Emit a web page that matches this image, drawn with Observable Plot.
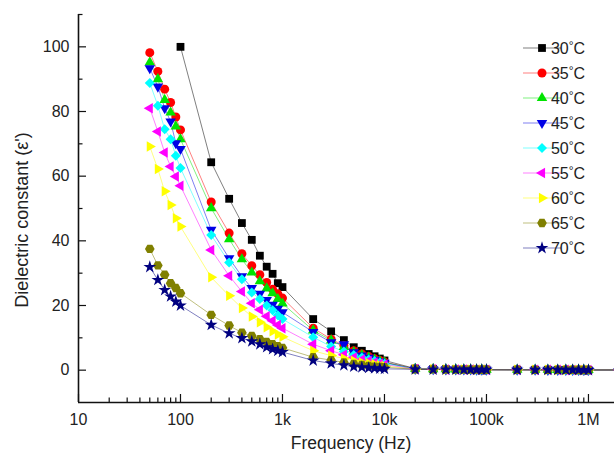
<!DOCTYPE html>
<html><head><meta charset="utf-8">
<script src="https://cdn.jsdelivr.net/npm/d3@7"></script>
<script src="https://cdn.jsdelivr.net/npm/@observablehq/plot@0.6"></script>
<style>
html,body{margin:0;padding:0;background:#fff;}
#chart{width:614px;height:454px;overflow:hidden;}
</style></head><body><div id="chart"></div>
<script>
// ---- data ----
const freqs = [50,60,70,80,90,100,200,300,400,500,600,700,800,900,1000,
  2000,3000,4000,5000,6000,7000,8000,9000,10000,
  20000,30000,40000,50000,60000,70000,80000,90000,100000,
  200000,300000,400000,500000,600000,700000,800000,900000,1000000,2000000];
const temps = ["30","35","40","45","50","55","60","65","70"];
const e30 = [null,null,null,null,null,100.0, 64.3,53.0,45.5,40.3,35.4,32.0,29.8,26.9, 25.7, 15.8,12.0,9.3,7.1,6.0,5.0,4.3,3.6,3.0, 0.50,0.36,0.30,0.26,0.23,0.21,0.19,0.18,0.17, 0.14,0.13,0.12,0.11,0.10,0.10,0.09,0.09,0.08, 0.07];
const e35 = [98.2,92.4,86.9,82.8,78.3,74.3, 52.0,42.4,36.0,32.3,29.5,27.1,25.0,23.6, 22.3, 13.0,9.6,7.6,6.0,5.0,4.2,3.5,3.0,2.5, 0.45,0.33,0.28,0.24,0.22,0.20,0.18,0.17,0.16, 0.13,0.12,0.11,0.10,0.10,0.09,0.09,0.08,0.08, 0.07];
const e40 = [95.2,90.0,83.6,79.7,75.4,71.4, 50.1,40.5,34.3,30.2,27.5,25.3,23.8,22.0, 20.6, 12.3,9.2,7.2,5.6,4.7,3.9,3.3,2.8,2.4, 0.42,0.31,0.27,0.23,0.21,0.19,0.18,0.17,0.16, 0.13,0.12,0.11,0.10,0.09,0.09,0.08,0.08,0.07, 0.07];
const e45 = [93.4,87.7,81.0,76.9,70.2,68.4, 43.4,34.6,29.0,25.4,23.6,21.7,20.2,19.0, 17.9, 11.8,8.6,8.0,5.5,4.5,3.8,3.2,2.7,2.3, 0.40,0.30,0.26,0.23,0.21,0.19,0.17,0.16,0.15, 0.13,0.12,0.11,0.10,0.09,0.09,0.08,0.08,0.07, 0.06];
const e50 = [88.8,81.8,74.5,71.4,66.3,62.5, 41.8,33.3,28.1,24.0,22.0,20.0,18.5,17.0, 15.8, 10.2,7.3,5.8,4.7,3.9,3.3,2.8,2.4,2.0, 0.38,0.29,0.25,0.22,0.20,0.18,0.17,0.16,0.15, 0.12,0.11,0.10,0.10,0.09,0.08,0.08,0.07,0.07, 0.06];
const e55 = [81.0,73.8,67.3,63.0,59.9,57.0, 37.2,29.2,24.3,20.7,18.7,16.7,15.3,14.0, 13.0, 8.0,6.0,4.8,3.9,3.3,2.8,2.4,2.0,1.7, 0.35,0.27,0.24,0.21,0.19,0.17,0.16,0.15,0.14, 0.12,0.11,0.10,0.09,0.09,0.08,0.08,0.07,0.07, 0.06];
const e60 = [69.2,62.2,55.3,51.1,47.0,44.4, 28.7,23.0,19.2,16.6,14.8,13.3,12.0,11.0, 10.3, 6.0,4.5,3.6,2.9,2.4,2.1,1.8,1.5,1.3, 0.32,0.25,0.22,0.20,0.18,0.17,0.15,0.14,0.14, 0.11,0.10,0.10,0.09,0.08,0.08,0.07,0.07,0.07, 0.06];
const e65 = [37.5,32.4,29.5,26.9,25.4,23.8, 17.1,13.8,11.6,10.6,9.6,8.7,8.0,7.4, 6.9, 4.0,3.1,2.4,1.9,1.6,1.3,1.1,1.0,0.9, 0.28,0.23,0.20,0.18,0.17,0.16,0.15,0.14,0.13, 0.11,0.10,0.09,0.09,0.08,0.08,0.07,0.07,0.06, 0.06];
const e70 = [31.9,27.9,24.8,22.8,21.2,20.0, 14.0,11.4,9.9,8.9,8.0,7.1,6.5,6.0, 5.6, 3.0,2.1,1.5,1.1,0.9,0.7,0.6,0.5,0.4, 0.25,0.21,0.19,0.17,0.16,0.15,0.14,0.13,0.12, 0.10,0.09,0.09,0.08,0.08,0.07,0.07,0.06,0.06, 0.05];
const seriesValues = [e30,e35,e40,e45,e50,e55,e60,e65,e70];

const xTickValues = [10,100,1000,10000,100000,1000000];
const xTickLabels = ["10","100","1k","10k","100k","1M"];
const xMinorTicks = [20,30,40,50,60,70,80,90,200,300,400,500,600,700,800,900,
  2000,3000,4000,5000,6000,7000,8000,9000,20000,30000,40000,50000,60000,70000,80000,90000,
  200000,300000,400000,500000,600000,700000,800000,900000];
const yTickValues = [0,20,40,60,80,100];
const yMinorTicks = [10,30,50,70,90,110];

// ---- styles ----
const colors = ["#000000","#ff0000","#00e400","#0000e6","#00ffff","#ff00ff","#ffff00","#808000","#000080"];
const sq3 = Math.sqrt(3);
function tri(dir){ // dir: 0 up,1 down,2 left,3 right
  return {draw(ctx,size){
    const y = -Math.sqrt(size/(sq3*3));
    let pts = [[0,y*2],[-sq3*y,-y],[sq3*y,-y]];
    if(dir===1) pts = pts.map(([a,b])=>[a,-b]);
    if(dir===2) pts = pts.map(([a,b])=>[b,a]);
    if(dir===3) pts = pts.map(([a,b])=>[-b,a]);
    ctx.moveTo(pts[0][0],pts[0][1]); ctx.lineTo(pts[1][0],pts[1][1]); ctx.lineTo(pts[2][0],pts[2][1]); ctx.closePath();
  }};
}
const diamond = {draw(ctx,size){const d=Math.sqrt(size/2); ctx.moveTo(0,-d); ctx.lineTo(d,0); ctx.lineTo(0,d); ctx.lineTo(-d,0); ctx.closePath();}};
const hexagon = {draw(ctx,size){const r=Math.sqrt(size/(1.5*sq3)); for(let k=0;k<6;k++){const a=k*Math.PI/3; const px=r*Math.cos(a), py=r*Math.sin(a); k?ctx.lineTo(px,py):ctx.moveTo(px,py);} ctx.closePath();}};
const symbols = [d3.symbolSquare, d3.symbolCircle, tri(0), tri(1), diamond, tri(2), tri(3), hexagon, d3.symbolStar];
const radii = [4.4, 4.5, 3.9, 3.9, 4.0, 3.9, 3.9, 4.4, 4.0];

// ---- table ----
const series = temps.map((t,k)=>({
  t, color: colors[k], symbol: symbols[k], r: radii[k],
  rows: freqs.map((f,i)=>({f, v: seriesValues[k][i]})).filter(d=>d.v!=null)
}));

const W = 614, H = 454, ML = 78, MR = 0, MT = 14, MB = 52;
const frameW = W-ML-MR, frameH = H-MT-MB;
const font = "'Liberation Sans', Arial, Helvetica, sans-serif";

const marks = [];
series.forEach(s=>{
  marks.push(Plot.line(s.rows,{x:"f",y:"v",stroke:s.color,strokeOpacity:0.5,strokeWidth:1,clip:true}));
});
series.forEach(s=>{
  marks.push(Plot.dot(s.rows,{x:"f",y:"v",symbol:s.symbol,r:s.r,fill:s.color,stroke:"none",clip:true}));
});
// axes
marks.push(Plot.tickX(xTickValues,{x:d=>d,insetTop:frameH-8,stroke:"#111",strokeWidth:1.2}));
marks.push(Plot.tickX(xMinorTicks,{x:d=>d,insetTop:frameH-4.5,stroke:"#111",strokeWidth:1.2}));
marks.push(Plot.tickY(yTickValues,{y:d=>d,insetRight:frameW-8,stroke:"#111",strokeWidth:1.2}));
marks.push(Plot.tickY(yMinorTicks,{y:d=>d,insetRight:frameW-4.5,stroke:"#111",strokeWidth:1.2}));
marks.push(Plot.ruleX([10],{stroke:"#111",strokeWidth:1.6}));
marks.push(Plot.ruleY([-10],{stroke:"#111",strokeWidth:1.6}));
marks.push(Plot.axisX({ticks:xTickValues,tickFormat:d=>xTickLabels[xTickValues.indexOf(d)],tickSize:0,tickPadding:11,fontSize:16,label:null}));
marks.push(Plot.axisY({ticks:yTickValues,tickSize:0,tickPadding:9,fontSize:16,label:null}));

const svg = Plot.plot({
  width:W,height:H,marginLeft:ML,marginRight:MR,marginTop:MT,marginBottom:MB,
  style:{fontFamily:font,fontSize:"16px",color:"#222",background:"#fff"},
  x:{type:"log",domain:[10,1.8e6]},
  y:{domain:[-10,110]},
  marks
});
document.getElementById("chart").appendChild(svg);

// axis titles and legend
const g = d3.select(svg).append("g").attr("font-family",font).attr("fill","#222");
g.append("text").attr("x",ML+frameW/2+5).attr("y",449).attr("text-anchor","middle").attr("font-size",17.5).text("Frequency (Hz)");
g.append("text").attr("transform","translate(28,220) rotate(-90)").attr("text-anchor","middle").attr("font-size",18).text("Dielectric constant (ε')");

const lg = g.append("g");
series.forEach((s,i)=>{
  const y = 48 + 25*i;
  lg.append("line").attr("x1",523).attr("x2",561).attr("y1",y).attr("y2",y).attr("stroke",s.color).attr("stroke-opacity",0.5).attr("stroke-width",1);
  lg.append("path").attr("transform",`translate(542,${y})`).attr("d",d3.symbol(s.symbol, Math.PI*s.r*s.r)()).attr("fill",s.color);
  const t = lg.append("text").attr("x",568).attr("y",y).attr("dy","0.36em").attr("font-size",16);
  t.append("tspan").text(s.t);
  t.append("tspan").attr("dy",-4).attr("font-size",12).text("°");
  t.append("tspan").attr("dy",4).text("C");
});
</script></body></html>
